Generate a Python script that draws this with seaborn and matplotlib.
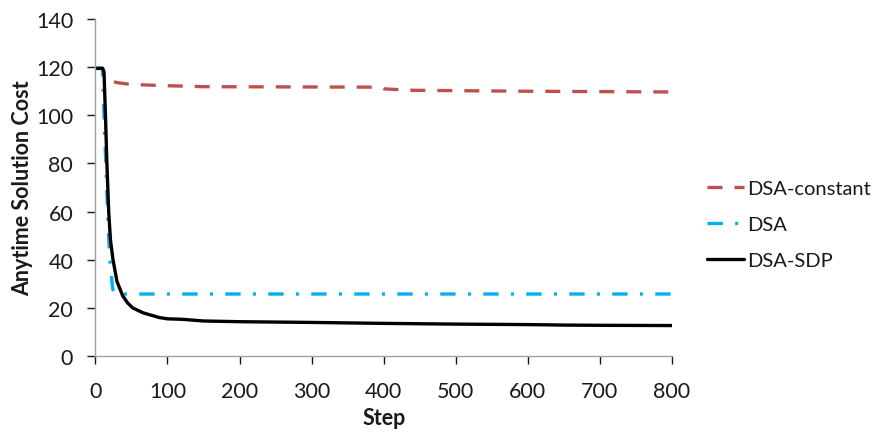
import matplotlib
matplotlib.use("Agg")
import matplotlib.pyplot as plt
import seaborn as sns
import pandas as pd

# ---- data ----
sdp_steps = [0, 10, 12, 14, 16, 18.5, 21, 24.5, 30, 38, 45, 52, 66, 89, 100, 120, 150, 200, 300, 400, 500, 600, 650, 700, 800]
sdp_cost  = [119.5, 119.5, 118, 100, 80, 60, 48, 40, 31, 25, 22, 20, 18, 16, 15.5, 15.3, 14.6, 14.3, 14.0, 13.6, 13.3, 13.1, 12.9, 12.8, 12.7]

dsa_steps = [0, 10, 12, 14.5, 17, 20, 24, 27, 800]
dsa_cost  = [119.5, 119.5, 100, 80, 60, 40, 28, 25.8, 25.8]

const_steps = [0, 10, 12, 22, 30, 50, 100, 150, 395, 400, 440, 600, 800]
const_cost  = [119.5, 119.5, 116, 114.2, 113.6, 112.8, 112.3, 111.9, 111.7, 111.0, 110.4, 110.0, 109.7]

labels = ["DSA-constant", "DSA", "DSA-SDP"]
colors = ["#C0504D", "#00B0F0", "#000000"]

x_ticks = [0, 100, 200, 300, 400, 500, 600, 700, 800]
y_ticks = [0, 20, 40, 60, 80, 100, 120, 140]

sns.set_theme(style="white")
plt.rcParams["font.family"] = ["Lato", "DejaVu Sans"]

fig = plt.figure(figsize=(8.83, 4.35), dpi=100)
ax = fig.add_axes([0.108, 0.179, 0.653, 0.775])

sns.lineplot(x=const_steps, y=const_cost, ax=ax, color=colors[0], linewidth=2.4,
             label=labels[0], linestyle=(0, (4.5, 3.6)), estimator=None, sort=False)
sns.lineplot(x=dsa_steps, y=dsa_cost, ax=ax, color=colors[1], linewidth=2.4,
             label=labels[1], linestyle=(0, (4.6, 3.7, 0.9, 3.7)), estimator=None, sort=False)
sns.lineplot(x=sdp_steps, y=sdp_cost, ax=ax, color=colors[2], linewidth=2.4,
             label=labels[2], estimator=None, sort=False)

ax.set_xlim(0, 800)
ax.set_ylim(0, 140)
ax.set_xticks(x_ticks)
ax.set_yticks(y_ticks)
ax.tick_params(axis="both", labelsize=15.5, colors="#1a1a1a", length=6, width=1,
               direction="out", bottom=True, left=True)
ax.tick_params(axis="y", pad=10)
ax.tick_params(axis="x", pad=12)
for t in ax.get_xticklines() + ax.get_yticklines():
    t.set_color("#A0A0A0")
for side in ["top", "right"]:
    ax.spines[side].set_visible(False)
for side in ["left", "bottom"]:
    ax.spines[side].set_color("#A0A0A0")
    ax.spines[side].set_linewidth(1)

ax.set_xlabel("Step", fontsize=15.5, fontweight="bold", color="#1a1a1a", labelpad=4)
ax.set_ylabel("Anytime Solution Cost", fontsize=15.5, fontweight="bold", color="#1a1a1a", labelpad=2)

leg = ax.legend(loc="center left", bbox_to_anchor=(1.03, 0.39), frameon=False,
                fontsize=14.5, handlelength=1.8, handletextpad=0.15, labelspacing=0.95)
for txt in leg.get_texts():
    txt.set_color("#1a1a1a")

fig.savefig("out.png", dpi=100)
